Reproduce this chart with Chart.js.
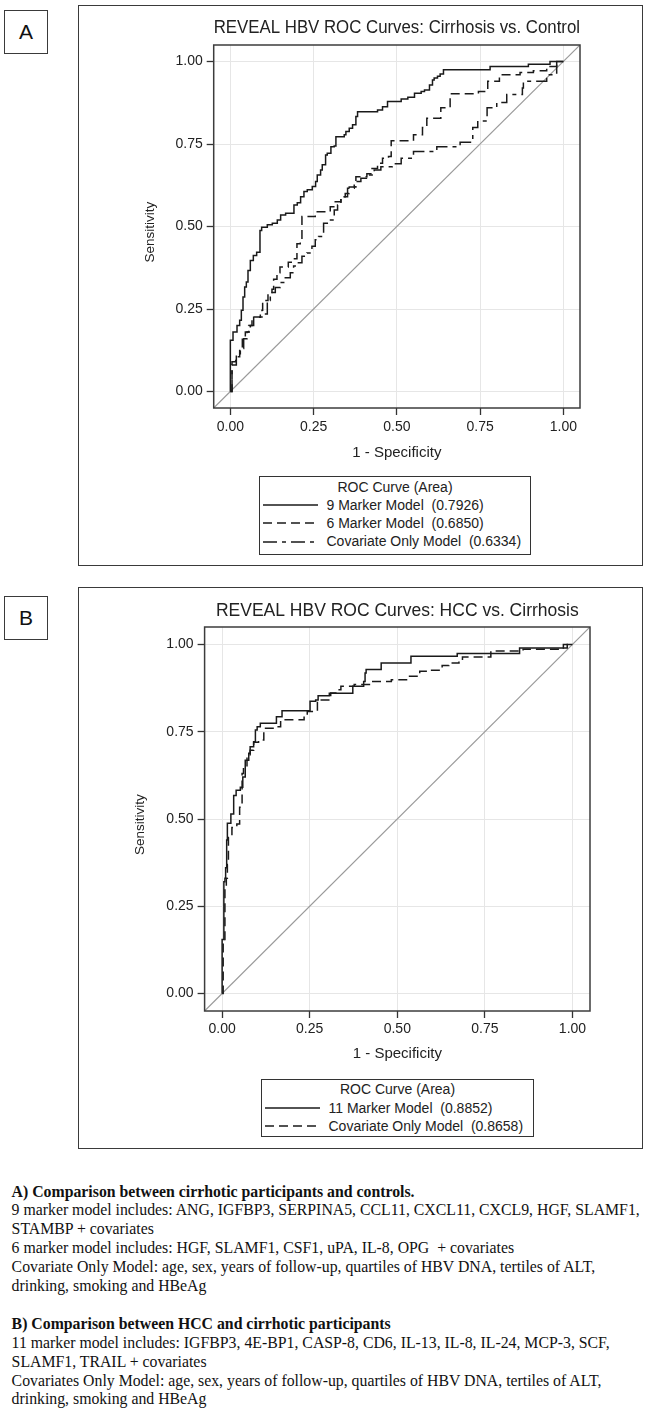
<!DOCTYPE html>
<html>
<head>
<meta charset="utf-8">
<title>REVEAL HBV ROC Curves</title>
<script src="https://cdn.jsdelivr.net/npm/chart.js@4.4.0/dist/chart.umd.min.js"></script>
<style>
  body { margin: 0; width: 645px; height: 1413px; position: relative; background: #fff;
         font-family: 'Liberation Sans', Arial, sans-serif; color: #222; overflow: hidden; }
  .frame { position: absolute; border: 1.5px solid #3a3a3a; box-sizing: border-box; }
  .tag { position: absolute; width: 44px; height: 44px; border: 1.5px solid #3a3a3a; box-sizing: border-box;
         font-size: 21px; line-height: 41px; text-align: center; color: #111; }
  canvas { position: absolute; }
  .legend { position: absolute; border: 1.5px solid #333; box-sizing: border-box; font-size: 14px; color: #222; }
  .legend .ttl { text-align: center; }
  .legend .row { display: flex; align-items: center; white-space: pre; }
  .legend svg { margin-left: 3px; margin-right: 8.5px; flex: none; }
  .notes { position: absolute; left: 11.6px; top: 1182.5px; font-family: 'Liberation Serif', 'Times New Roman', serif;
           font-size: 15.8px; line-height: 18.9px; white-space: nowrap; color: #111; }
</style>
</head>
<body>

<div class="frame" style="left:78px; top:5px; width:565px; height:561px;"></div>
<div class="tag" style="left:4px; top:10px;">A</div>
<canvas id="roc-a" width="470" height="452" style="left:130px; top:10px;"></canvas>
<div class="legend" id="legend-a" style="left:259px; top:476px; width:272px; height:79px; line-height:18.3px; padding-top:0.5px;"></div>

<div class="frame" style="left:78px; top:587px; width:565px; height:562px;"></div>
<div class="tag" style="left:4px; top:596px;">B</div>
<canvas id="roc-b" width="490" height="473" style="left:120px; top:590px;"></canvas>
<div class="legend" id="legend-b" style="left:261px; top:1079px; width:273px; height:58px; line-height:18.5px;"></div>

<div class="notes">
<b>A) Comparison between cirrhotic participants and controls.</b><br>
9 marker model includes: ANG, IGFBP3, SERPINA5, CCL11, CXCL11, CXCL9, HGF, SLAMF1,<br>
STAMBP + covariates<br>
6 marker model includes: HGF, SLAMF1, CSF1, uPA, IL-8, OPG&nbsp; + covariates<br>
Covariate Only Model: age, sex, years of follow-up, quartiles of HBV DNA, tertiles of ALT,<br>
drinking, smoking and HBeAg<br>
<br>
<b>B) Comparison between HCC and cirrhotic participants</b><br>
11 marker model includes: IGFBP3, 4E-BP1, CASP-8, CD6, IL-13, IL-8, IL-24, MCP-3, SCF,<br>
SLAMF1, TRAIL + covariates<br>
Covariates Only Model: age, sex, years of follow-up, quartiles of HBV DNA, tertiles of ALT,<br>
drinking, smoking and HBeAg
</div>

<script>
// axis setup shared by both panels
const tickValues = [0, 0.25, 0.5, 0.75, 1];
const axisMin = -0.05;
const axisMax = 1.05;
const diagonal = [-0.05, 1.05];

// Panel A: cirrhosis vs control
const titleA = 'REVEAL HBV ROC Curves: Cirrhosis vs. Control';
const namesA = ['9 Marker Model', '6 Marker Model', 'Covariate Only Model'];
const areasA = [0.7926, 0.6850, 0.6334];

const fprA9 = [0, 0, 0.008, 0.02, 0.028, 0.033, 0.038, 0.043, 0.048, 0.053, 0.06, 0.069, 0.079, 0.089, 0.094,
  0.111, 0.126, 0.141, 0.151, 0.166, 0.191, 0.201, 0.211, 0.221, 0.231, 0.246, 0.256, 0.261, 0.271, 0.276,
  0.286, 0.291, 0.302, 0.312, 0.317, 0.342, 0.347, 0.357, 0.367, 0.377, 0.382, 0.442, 0.457, 0.472, 0.513,
  0.533, 0.553, 0.573, 0.583, 0.598, 0.607, 0.612, 0.622, 0.63, 0.64, 0.78, 0.895, 0.96, 1.0];
const tprA9 = [0, 0.155, 0.18, 0.2, 0.216, 0.246, 0.286, 0.317, 0.332, 0.367, 0.397, 0.412, 0.422, 0.488, 0.498,
  0.505, 0.51, 0.52, 0.535, 0.54, 0.565, 0.572, 0.59, 0.606, 0.611, 0.621, 0.636, 0.656, 0.671, 0.687,
  0.717, 0.722, 0.742, 0.744, 0.772, 0.778, 0.788, 0.798, 0.808, 0.833, 0.848, 0.853, 0.863, 0.879, 0.886,
  0.892, 0.904, 0.909, 0.914, 0.929, 0.944, 0.95, 0.955, 0.962, 0.975, 0.985, 0.992, 1.0, 1.0];

const fprA6 = [0, 0.005, 0.016, 0.028, 0.036, 0.045, 0.055, 0.065, 0.095, 0.097, 0.113, 0.125, 0.13, 0.14, 0.149,
  0.174, 0.19, 0.2, 0.21, 0.215, 0.255, 0.3, 0.315, 0.332, 0.345, 0.357, 0.377, 0.41, 0.422, 0.442,
  0.457, 0.475, 0.483, 0.55, 0.577, 0.59, 0.632, 0.66, 0.745, 0.773, 0.808, 0.87, 0.91, 0.95, 0.98, 1.0];
const tprA6 = [0, 0.09, 0.105, 0.13, 0.165, 0.18, 0.2, 0.226, 0.246, 0.276, 0.3, 0.31, 0.34, 0.36, 0.377,
  0.392, 0.402, 0.448, 0.46, 0.53, 0.545, 0.56, 0.575, 0.59, 0.6, 0.62, 0.651, 0.66, 0.676, 0.692,
  0.707, 0.712, 0.76, 0.778, 0.8, 0.828, 0.86, 0.902, 0.909, 0.94, 0.96, 0.967, 0.972, 0.985, 1.0, 1.0];

const fprACov = [0, 0.005, 0.018, 0.03, 0.04, 0.05, 0.06, 0.07, 0.09, 0.111, 0.12, 0.135, 0.15, 0.165, 0.18,
  0.19, 0.2, 0.215, 0.23, 0.245, 0.255, 0.265, 0.28, 0.296, 0.312, 0.322, 0.332, 0.352, 0.372, 0.392,
  0.412, 0.432, 0.452, 0.486, 0.513, 0.55, 0.62, 0.69, 0.728, 0.743, 0.771, 0.8, 0.83, 0.877, 0.88,
  0.95, 0.98, 1.0];
const tprACov = [0, 0.08, 0.11, 0.13, 0.16, 0.18, 0.2, 0.225, 0.235, 0.276, 0.3, 0.315, 0.33, 0.345, 0.36,
  0.38, 0.39, 0.41, 0.42, 0.44, 0.46, 0.47, 0.51, 0.52, 0.55, 0.565, 0.59, 0.616, 0.636, 0.646,
  0.656, 0.671, 0.681, 0.69, 0.707, 0.727, 0.742, 0.755, 0.8, 0.82, 0.86, 0.876, 0.9, 0.92, 0.94,
  0.96, 1.0, 1.0];

// Panel B: HCC vs cirrhosis
const titleB = 'REVEAL HBV ROC Curves: HCC vs. Cirrhosis';
const namesB = ['11 Marker Model', 'Covariate Only Model'];
const areasB = [0.8852, 0.8658];

const fprB11 = [0, 0, 0.005, 0.008, 0.01, 0.013, 0.015, 0.025, 0.033, 0.04, 0.052, 0.059, 0.066, 0.076, 0.08,
  0.09, 0.095, 0.1, 0.109, 0.155, 0.171, 0.251, 0.267, 0.274, 0.306, 0.373, 0.404, 0.408, 0.411, 0.454,
  0.539, 0.671, 0.849, 0.985, 1.0];
const tprB11 = [0, 0.155, 0.32, 0.33, 0.36, 0.44, 0.488, 0.514, 0.567, 0.582, 0.591, 0.62, 0.668, 0.688, 0.707,
  0.721, 0.755, 0.764, 0.774, 0.793, 0.81, 0.837, 0.841, 0.853, 0.86, 0.88, 0.894, 0.918, 0.928, 0.947,
  0.966, 0.974, 0.99, 1.0, 1.0];

const fprBCov = [0, 0.003, 0.008, 0.012, 0.015, 0.018, 0.028, 0.042, 0.05, 0.057, 0.061, 0.071, 0.08, 0.09, 0.104,
  0.119, 0.157, 0.167, 0.234, 0.243, 0.272, 0.31, 0.33, 0.339, 0.377, 0.425, 0.483, 0.531, 0.564, 0.59,
  0.628, 0.647, 0.676, 0.686, 0.767, 0.859, 0.974, 1.0];
const tprBCov = [0, 0.15, 0.3, 0.33, 0.37, 0.447, 0.476, 0.486, 0.534, 0.63, 0.649, 0.678, 0.697, 0.72, 0.726,
  0.76, 0.764, 0.784, 0.798, 0.808, 0.841, 0.861, 0.87, 0.88, 0.885, 0.894, 0.899, 0.909, 0.923, 0.926,
  0.94, 0.947, 0.955, 0.964, 0.981, 0.986, 1.0, 1.0];

const FONT = "'Liberation Sans', Arial, sans-serif";
const INK = '#1a1a1a';
const DASH = [9, 5];
const DASH_DOT = [14, 5, 4, 5];

function toPoints(xs, ys) {
    return xs.map((x, i) => ({ x: x, y: ys[i] }));
}

// box around the plot area (top/right edges are not drawn by the axes)
const plotFrame = {
    id: 'plotFrame',
    afterDatasetsDraw(chart) {
        const a = chart.chartArea;
        const ctx = chart.ctx;
        ctx.save();
        ctx.strokeStyle = '#3c3c3c';
        ctx.lineWidth = 1.5;
        ctx.strokeRect(a.left, a.top, a.right - a.left, a.bottom - a.top);
        ctx.restore();
    }
};

function buildRoc(canvasId, legendId, o) {
    const datasets = [{
        label: 'reference',
        data: toPoints(diagonal, diagonal),
        borderColor: '#9a9a9a',
        borderWidth: 1.2,
        pointRadius: 0,
        order: 10
    }];
    o.names.forEach((name, i) => {
        datasets.push({
            label: name + '  (' + o.areas[i].toFixed(4) + ')',
            data: toPoints(o.fpr[i], o.tpr[i]),
            stepped: 'before',
            borderColor: INK,
            borderWidth: 1.5,
            borderDash: o.dashes[i],
            pointRadius: 0,
            fill: false
        });
    });

    const axis = (title, extra) => Object.assign({
        type: 'linear',
        min: axisMin,
        max: axisMax,
        afterBuildTicks: scale => { scale.ticks = tickValues.map(v => ({ value: v })); },
        ticks: {
            color: '#222',
            font: { family: FONT, size: 14 },
            callback: v => Number(v).toFixed(2)
        },
        grid: { color: '#e6e6e6', lineWidth: 1, tickColor: '#333', tickLength: 7, tickWidth: 1.3 },
        border: { display: false },
        title: { display: true, text: title, color: '#222' }
    }, extra);

    const xAxis = axis('1 - Specificity', { afterFit: s => { s.height = o.xHeight; } });
    xAxis.ticks.padding = o.xTickPad;
    xAxis.title.font = { family: FONT, size: 15 };
    xAxis.title.padding = { top: 0, bottom: 0 };

    const yAxis = axis('Sensitivity   ', { afterFit: s => { s.width = o.yWidth; } });
    yAxis.ticks.padding = 4;
    yAxis.title.font = { family: FONT, size: 13.5 };
    yAxis.title.padding = { top: o.yTitlePad, bottom: 0 };

    const chart = new Chart(document.getElementById(canvasId), {
        type: 'line',
        data: { datasets: datasets },
        options: {
            responsive: false,
            animation: false,
            devicePixelRatio: 1,
            layout: { padding: { right: o.padRight } },
            plugins: {
                legend: { display: false },
                tooltip: { enabled: false },
                title: {
                    display: true,
                    text: o.title,
                    fullSize: false,
                    color: '#222',
                    font: { family: FONT, size: 17.5, weight: 'normal' },
                    padding: o.titlePad
                }
            },
            scales: { x: xAxis, y: yAxis }
        },
        plugins: [plotFrame]
    });

    // html legend built from the chart's own legend items
    const box = document.getElementById(legendId);
    const head = document.createElement('div');
    head.className = 'ttl';
    head.textContent = 'ROC Curve (Area)';
    box.appendChild(head);
    const items = Chart.defaults.plugins.legend.labels.generateLabels(chart)
        .filter(item => item.datasetIndex > 0);
    items.forEach(item => {
        const row = document.createElement('div');
        row.className = 'row';
        const dash = (item.lineDash || []).join(' ');
        row.innerHTML = '<svg width="55" height="6"><line x1="0" y1="3" x2="55" y2="3" stroke="' + INK +
            '" stroke-width="1.4"' + (dash ? ' stroke-dasharray="' + dash + '"' : '') + '/></svg>';
        const label = document.createElement('span');
        label.textContent = item.text;
        row.appendChild(label);
        box.appendChild(row);
    });
    return chart;
}

buildRoc('roc-a', 'legend-a', {
    title: titleA,
    names: namesA,
    areas: areasA,
    fpr: [fprA9, fprA6, fprACov],
    tpr: [tprA9, tprA6, tprACov],
    dashes: [[], DASH, DASH_DOT],
    padRight: 20,
    titlePad: { top: 7.5, bottom: 6.5 },
    yWidth: 83.7,
    yTitlePad: 11.9,
    xHeight: 54,
    xTickPad: 3.5
});

buildRoc('roc-b', 'legend-b', {
    title: titleB,
    names: namesB,
    areas: areasB,
    fpr: [fprB11, fprBCov],
    tpr: [tprB11, tprBCov],
    dashes: [[], DASH],
    padRight: 20,
    titlePad: { top: 10.5, bottom: 5.5 },
    yWidth: 84.6,
    yTitlePad: 12.4,
    xHeight: 52,
    xTickPad: 2.6
});
</script>
</body>
</html>
